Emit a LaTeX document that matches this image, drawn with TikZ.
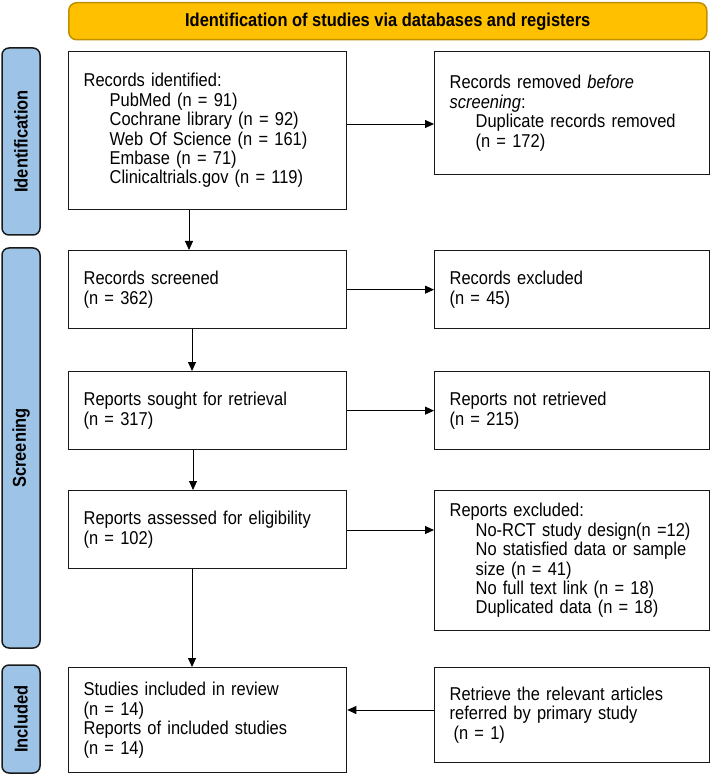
\documentclass[tikz,border=0pt]{standalone}
\usepackage{fontspec}
\setmainfont{Liberation Sans}[FakeStretch=0.885]
\usetikzlibrary{arrows.meta,calc}
\definecolor{hdrfill}{HTML}{FFC000}
\definecolor{hdrdraw}{HTML}{BF9000}
\definecolor{barfill}{HTML}{9DC3E6}
\definecolor{bardraw}{HTML}{1A1A1A}
\begin{document}
\begin{tikzpicture}[x=1pt,y=-1pt,
  txt/.style={font=\fontsize{18.6}{19.4}\selectfont},
  boxl/.style={txt, draw=black!90, line width=1.3pt, fill=white, anchor=north west,
    align=left, inner xsep=15pt, inner ysep=0pt, text width=248pt, minimum width=278pt},
  boxr/.style={boxl, text width=245pt, minimum width=275pt},
  bar/.style={draw=bardraw, fill=barfill, line width=1.5pt, rounded corners=7pt,
    rotate=90, minimum height=38pt, inner sep=0pt, font=\fontsize{18.6}{19.4}\selectfont\bfseries},
  hdr/.style={draw=hdrdraw, fill=hdrfill, line width=1.5pt, rounded corners=8pt,
    anchor=north west, minimum width=638pt, minimum height=37pt, inner sep=0pt,
    font=\fontsize{18.6}{19.4}\selectfont\bfseries},
  arr/.style={line width=0.9pt, -{Triangle[length=9pt,width=8pt]}}
]
\useasboundingbox (0,0) rectangle (710,775);

% header
\node[hdr] (head) at (68,2) {Identification of studies via databases and registers};

% phase bars
\node[bar, minimum width=187pt] (idbar) at (21,141.5) {Identification};
\node[bar, minimum width=400pt] (scbar) at (21,448) {Screening};
\node[bar, minimum width=108pt] (inbar) at (21,719) {Included};

% left column
\node[boxl, minimum height=158pt] (ident) at (68,51) {Records identified:\\
  \hspace*{26pt}PubMed (n = 91)\\
  \hspace*{26pt}Cochrane library (n = 92)\\
  \hspace*{26pt}Web Of Science (n = 161)\\
  \hspace*{26pt}Embase (n = 71)\\
  \hspace*{26pt}Clinicaltrials.gov (n = 119)};
\node[boxl, minimum height=78pt] (screened) at (68,250) {Records screened\\(n = 362)};
\node[boxl, minimum height=78pt] (sought) at (68,371) {Reports sought for retrieval\\(n = 317)};
\node[boxl, minimum height=78pt] (assessed) at (68,490) {Reports assessed for eligibility\\(n = 102)};
\node[boxl, minimum height=105pt] (studies) at (68,667) {Studies included in review\\(n = 14)\\Reports of included studies\\(n = 14)};

% right column
\node[boxr, minimum height=123pt] (removed) at (434,51) {Records removed \textit{before}\\
  \textit{screening}:\\
  \hspace*{26pt}Duplicate records removed\\
  \hspace*{26pt}(n = 172)};
\node[boxr, minimum height=78pt] (excluded) at (434,250) {Records excluded\\(n = 45)};
\node[boxr, minimum height=78pt] (notret) at (434,371) {Reports not retrieved\\(n = 215)};
\node[boxr, minimum height=140pt] (repexcl) at (434,490) {Reports excluded:\\
  \hspace*{26pt}No-RCT study design(n =12)\\
  \hspace*{26pt}No statisfied data or sample\\
  \hspace*{26pt}size (n = 41)\\
  \hspace*{26pt}No full text link (n = 18)\\
  \hspace*{26pt}Duplicated data (n = 18)};
\node[boxr, minimum height=95pt] (retrieve) at (434,667) {Retrieve the relevant articles\\
  referred by primary study\\
  \hspace*{4pt}(n = 1)};

% helper coordinates
\coordinate (ax1) at (189,0);
\coordinate (ax2) at (192,0);
\coordinate (ax3) at (193,0);
\coordinate (ax4) at (192,0);
\coordinate (ay1) at (0,124);
\coordinate (ay4) at (0,530);
\coordinate (ay5) at (0,710);

% vertical arrows
\draw[arr] (ident.south -| ax1) -- (screened.north -| ax1);
\draw[arr] (screened.south -| ax2) -- (sought.north -| ax2);
\draw[arr] (sought.south -| ax3) -- (assessed.north -| ax3);
\draw[arr] (assessed.south -| ax4) -- (studies.north -| ax4);

% horizontal arrows
\draw[arr] (ident.east |- ay1) -- (removed.west |- ay1);
\draw[arr] (screened.east) -- (excluded.west);
\draw[arr] (sought.east) -- (notret.west);
\draw[arr] (assessed.east |- ay4) -- (repexcl.west |- ay4);
\draw[arr] (retrieve.west |- ay5) -- (studies.east |- ay5);
\end{tikzpicture}
\end{document}
